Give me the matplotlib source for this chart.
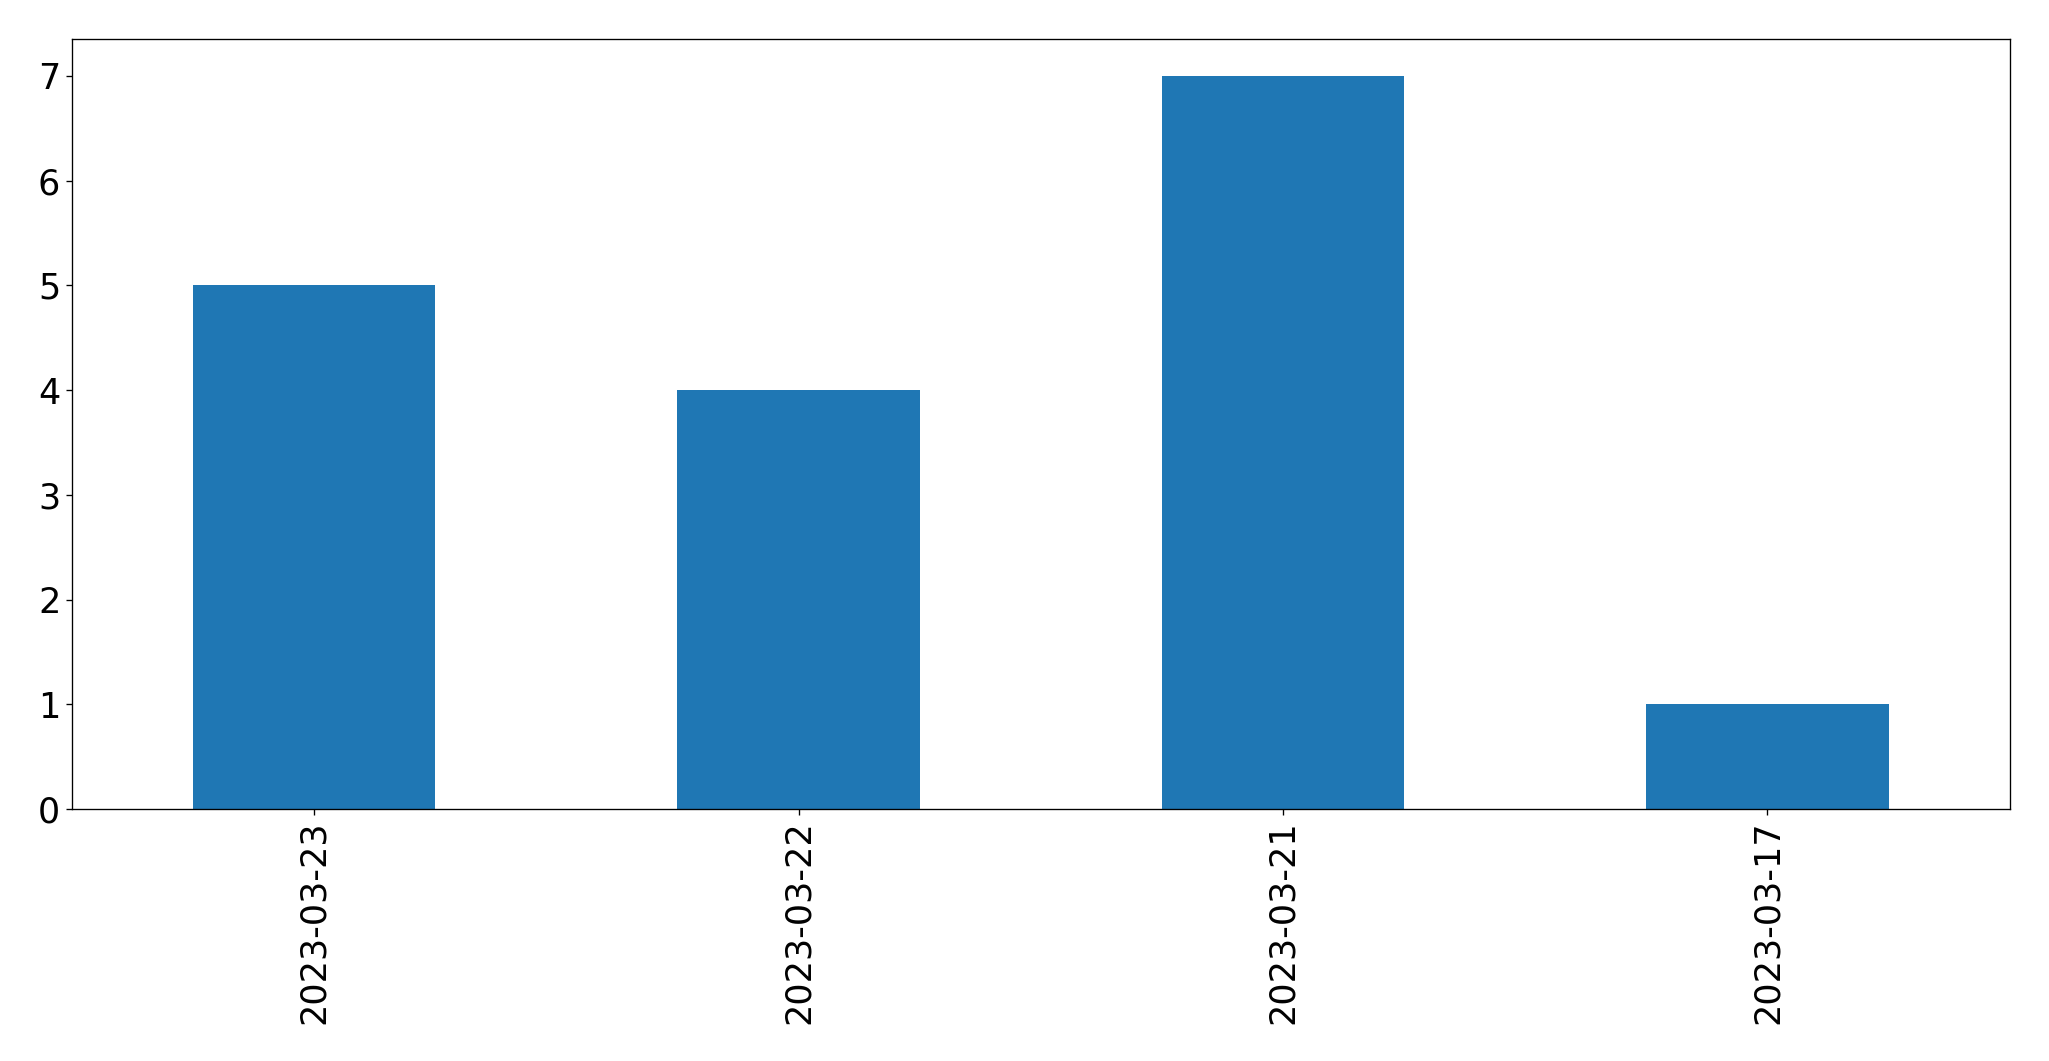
import matplotlib
matplotlib.use("Agg")
import matplotlib.pyplot as plt

dates = ["2023-03-23", "2023-03-22", "2023-03-21", "2023-03-17"]
counts = [5, 4, 7, 1]

fig = plt.figure(figsize=(2049 / 120, 1061 / 120), dpi=120)
ax = fig.add_axes([0.0351, 0.2375, 0.9457, 0.7255])
x = list(range(len(dates)))
ax.bar(x, counts, width=0.5, color="#1f77b4")
ax.set_xlim(-0.5, len(dates) - 0.5)
ax.set_ylim(0, max(counts) * 1.05)
ax.set_xticks(x)
ax.set_xticklabels(dates, rotation=90, fontsize=21)
ax.tick_params(axis="y", labelsize=21)
fig.savefig("out.png", dpi=120)
